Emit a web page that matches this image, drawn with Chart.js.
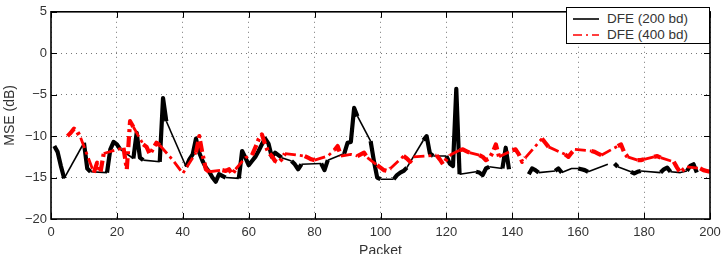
<!DOCTYPE html>
<html lang="en">

<head>
    <meta charset="UTF-8">
    <title>MSE per packet</title>
    <script src="https://cdn.jsdelivr.net/npm/chart.js"></script>
    <style>
        body { margin: 0; background: #fff; }
        #wrap { position: relative; width: 727px; height: 254px; }
        #legend {
            position: absolute; left: 566px; top: 7px; width: 142px; height: 35px;
            border: 1px solid #000; background: #fff;
            font-family: "Liberation Sans", Arial, sans-serif; font-size: 13.5px; color: #333;
        }
        .row { position: absolute; left: 0; height: 16px; line-height: 16px; }
        .row svg { position: absolute; left: 6px; top: 3px; }
        .row span { position: absolute; left: 40px; white-space: nowrap; }
    </style>
</head>

<body>
    <div id="wrap">
        <canvas id="myChart" width="727" height="254"></canvas>
        <div id="legend">
            <div class="row" style="top:3px">
                <svg width="26" height="10"><line x1="0" y1="5" x2="26" y2="5" stroke="#000" stroke-width="1.6"/></svg>
                <span>DFE (200 bd)</span>
            </div>
            <div class="row" style="top:19px">
                <svg width="26" height="10"><line x1="0" y1="5" x2="26" y2="5" stroke="#f00" stroke-width="1.6" stroke-dasharray="9,4,2,4"/></svg>
                <span>DFE (400 bd)</span>
            </div>
        </div>
    </div>

    <script>
        // DFE 200 baud (null = missing packets)
        var packets200 = [1, 2, 3, 4, 10, 11, 12, 17, 18, 19, 20, 21, 25, 26, 27, 28, 33, 34, 35, 41,
            42, 43, 44, 45, 46, 47, 48, 49, 50, 51, 52, 53, 57, 58, 59, 60, 61, 62, 63, 64,
            65, 66, 67, 68, 69, 70, 73, 74, 75, 76, 82, 83, 84, 89, 90, 91, 92, 93, 97, 98,
            99, 100, 104, 105, 106, 107, 108, 113, 114, 115, 116, 120, 121, 122, 123, 124, 129, 130, 131, 132,
            133, 137, 138, 139, 142, 145, 146, 147, 148, 153, 154, 155, 158, 160, 161, 162, 163, 169, 170, 171,
            172, 176, 177, 178, 179, 185, 186, 187, 188, 191, 193, 194, 195, 196];
        var mse200 = [-11.2, -11.9, -13.6, -15.1, -10.8, -13.9, -14.3, -14.4, -11.6, -10.7, -11.0, -11.6, -12.7, -9.6, -12.6, -12.9, -13.1, -5.4, -8.2, -13.7,
            -12.8, -12.2, -10.3, -12.0, -13.0, -13.8, -14.3, -15.0, -15.5, -14.6, -14.8, -15.0, -15.1, -11.8, -12.6, -13.5, -13.0, -12.5, -11.8, -11.0,
            -10.3, -10.9, -12.5, -12.0, -12.3, -12.6, -13.0, -13.4, -14.0, -13.4, -13.3, -14.1, -12.9, -12.1, -10.8, -10.7, -6.6, -7.6, -10.6, -13.0,
            -15.0, -15.2, -15.2, -14.7, -14.4, -14.2, -13.8, -10.5, -10.0, -12.1, -12.4, -12.4, -13.3, -13.6, -4.3, -14.6, -14.3, -14.4, -14.7, -13.9,
            -13.7, -13.9, -11.4, -14.0, null, -14.6, -13.9, -14.1, -14.4, -14.2, -13.9, -14.4, -13.9, -13.9, -14.0, -14.1, -14.3, -13.4, null, -13.3,
            -13.7, -14.3, -14.5, -14.3, -14.2, -14.4, -14.0, -13.8, -14.3, -14.4, -14.2, -13.6, -13.4, -14.4];

        // DFE 400 baud
        var packets400 = [5, 6, 7, 8, 9, 13, 14, 15, 16, 22, 23, 24, 25, 28, 29, 30, 31, 32, 33, 37,
            40, 44, 45, 46, 47, 48, 52, 53, 54, 55, 56, 59, 61, 62, 63, 64, 65, 66, 67, 68,
            69, 70, 71, 73, 77, 78, 79, 80, 84, 86, 87, 88, 91, 93, 94, 95, 96, 99, 100, 101,
            102, 103, 107, 108, 109, 110, 117, 118, 119, 120, 121, 124, 125, 126, 127, 130, 131, 132, 133, 134,
            135, 136, 140, 141, 142, 143, 144, 149, 150, 151, 156, 157, 158, 159, 164, 165, 166, 167, 172, 173,
            174, 175, 178, 179, 180, 183, 184, 185, 189, 190, 191, 192, 193, 197, 198, 199, 200];
        var mse400 = [-10.0, -9.6, -9.1, -9.5, -10.2, -14.4, -13.2, -14.4, -12.1, -11.4, -14.0, -8.2, -8.9, -11.0, -11.3, -12.2, -11.5, -10.8, -11.1, -12.9,
            -14.5, -12.0, -10.0, -12.2, -14.0, -14.3, -14.1, -14.2, -14.0, -14.6, -14.0, -12.6, -12.3, -11.4, -10.4, -9.8, -11.0, -12.0, -12.4, -13.0,
            -13.2, -12.8, -12.1, -12.2, -12.4, -12.6, -12.8, -12.9, -12.4, -11.7, -11.2, -12.4, -12.2, -12.4, -12.2, -12.0, -12.6, -13.5, -13.8, -14.1,
            -14.2, -13.9, -12.4, -12.7, -13.1, -12.5, -12.3, -12.8, -13.4, -12.8, -12.3, -11.7, -11.6, -11.8, -12.0, -12.3, -12.5, -12.9, -12.7, -12.0,
            -11.0, -12.5, -11.7, -11.6, -12.2, -13.1, -12.6, -10.3, -10.8, -11.3, -12.2, -12.5, -12.0, -11.6, -11.8, -11.9, -12.1, -12.3, -11.2, -11.0,
            -12.0, -12.5, -12.9, -12.9, -12.8, -12.5, -12.4, -12.6, -13.1, -13.8, -14.4, -14.0, -13.7, -13.9, -14.1, -14.2, -14.3];

        var xTickLabels = ['0', '20', '40', '60', '80', '100', '120', '140', '160', '180', '200'];
        var yTickLabels = ['\u221220', '\u221215', '\u221210', '\u22125', '0', '5'];

        function toPoints(xs, ys) {
            return xs.map(function (x, i) { return { x: x, y: ys[i] }; });
        }

        // consecutive packets drawn heavy, long jumps drawn lighter
        function segWidth(thin) {
            return function (ctx) {
                return (ctx.p1.parsed.x - ctx.p0.parsed.x) > 1.5 ? thin : 4.2;
            };
        }

        var framePlugin = {
            id: 'frame',
            afterDraw: function (chart) {
                var c = chart.ctx, a = chart.chartArea;
                var xs = chart.scales.x, ys = chart.scales.y;
                c.save();
                c.strokeStyle = '#000';
                c.lineWidth = 1;
                c.beginPath();
                xs.ticks.forEach(function (t) {
                    var px = Math.round(xs.getPixelForValue(t.value)) + 0.5;
                    c.moveTo(px, a.bottom); c.lineTo(px, a.bottom - 6);
                    c.moveTo(px, a.top); c.lineTo(px, a.top + 6);
                });
                ys.ticks.forEach(function (t) {
                    var py = Math.round(ys.getPixelForValue(t.value)) + 0.5;
                    c.moveTo(a.left, py); c.lineTo(a.left + 6, py);
                    c.moveTo(a.right, py); c.lineTo(a.right - 6, py);
                });
                c.stroke();
                c.lineWidth = 1.6;
                c.strokeRect(a.left, a.top, a.right - a.left, a.bottom - a.top);
                c.restore();
            }
        };

        var tickFont = { family: '"Liberation Sans", Arial, sans-serif', size: 13 };
        var titleFont = { family: '"Liberation Sans", Arial, sans-serif', size: 14 };

        var ctx = document.getElementById('myChart').getContext('2d');
        var myChart = new Chart(ctx, {
            type: 'line',
            data: {
                datasets: [{
                    label: 'DFE (200 bd)',
                    data: toPoints(packets200, mse200),
                    borderColor: '#000',
                    borderWidth: 4.2,
                    borderJoinStyle: 'round',
                    pointRadius: 0,
                    spanGaps: false,
                    order: 1,
                    segment: { borderWidth: segWidth(1.6) }
                }, {
                    label: 'DFE (400 bd)',
                    data: toPoints(packets400, mse400),
                    borderColor: '#ff0000',
                    borderWidth: 4.2,
                    borderDash: [11, 4, 3, 4],
                    borderJoinStyle: 'round',
                    pointRadius: 0,
                    order: 0,
                    segment: { borderWidth: segWidth(2.8) }
                }]
            },
            options: {
                responsive: false,
                animation: false,
                devicePixelRatio: 1,
                layout: { padding: { left: 0, right: 17, top: 1, bottom: 0 } },
                plugins: { legend: { display: false }, tooltip: { enabled: false } },
                scales: {
                    x: {
                        type: 'linear',
                        min: 0, max: 200,
                        afterFit: function (s) { s.height = 35; },
                        afterBuildTicks: function (s) {
                            s.ticks = xTickLabels.map(function (l, i) { return { value: i * 20 }; });
                        },
                        ticks: {
                            padding: 6, color: '#333', font: tickFont, maxRotation: 0,
                            callback: function (v, i) { return xTickLabels[i]; }
                        },
                        grid: { color: '#777', lineWidth: 1, drawTicks: false },
                        border: { display: false, dash: [1, 4] },
                        title: { display: true, text: 'Packet', color: '#333', font: titleFont, padding: { top: 0, bottom: -5.5 } }
                    },
                    y: {
                        min: -20, max: 5,
                        afterFit: function (s) { s.width = 51; },
                        afterBuildTicks: function (s) {
                            s.ticks = yTickLabels.map(function (l, i) { return { value: -20 + i * 5 }; });
                        },
                        ticks: {
                            padding: 4, color: '#333', font: tickFont,
                            callback: function (v, i) { return yTickLabels[i]; }
                        },
                        grid: { color: '#777', lineWidth: 1, drawTicks: false },
                        border: { display: false, dash: [1, 4] },
                        title: { display: true, text: 'MSE (dB)', color: '#333', font: titleFont, padding: { top: 1.6, bottom: 0 } }
                    }
                }
            },
            plugins: [framePlugin]
        });
    </script>
</body>

</html>
